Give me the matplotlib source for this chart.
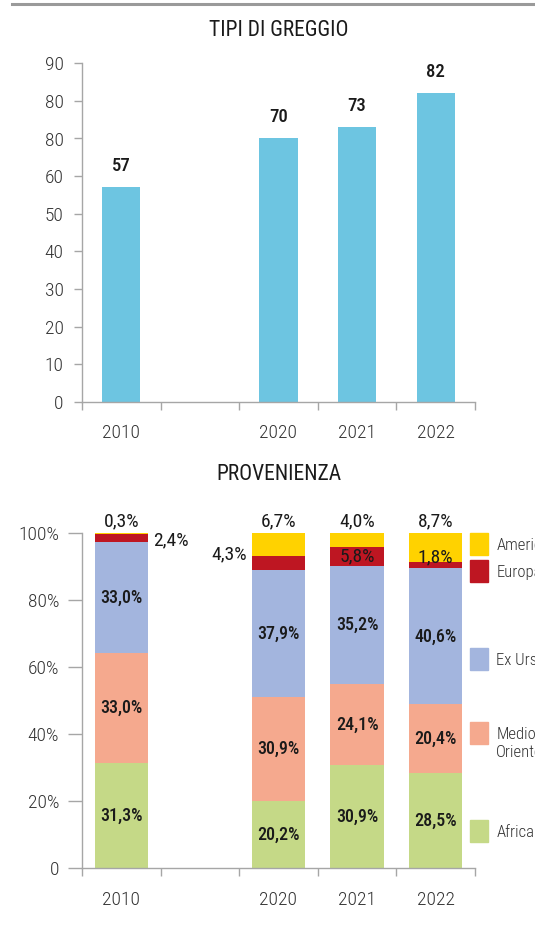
import matplotlib
matplotlib.use('Agg')
import matplotlib.pyplot as plt
from matplotlib import font_manager
from matplotlib.patches import Rectangle
from matplotlib.lines import Line2D

# --- data ---
years = ['2010', '', '2020', '2021', '2022']
greggio = [57, None, 70, 73, 82]
greggio_ticks = [0, 10, 20, 30, 40, 50, 60, 70, 80, 90]
greggio_ticklabels = ['0', '10', '20', '30', '40', '50', '60', '80', '80', '90']  # as printed

regioni = ['Africa', 'Medio\nOriente', 'Ex Urss', 'Europa', 'America']
africa = [31.3, None, 20.2, 30.9, 28.5]
medio_oriente = [33.0, None, 30.9, 24.1, 20.4]
ex_urss = [33.0, None, 37.9, 35.2, 40.6]
europa = [2.4, None, 4.3, 5.8, 1.8]
america = [0.3, None, 6.7, 4.0, 8.7]
pct_ticks = [0, 20, 40, 60, 80, 100]
pct_ticklabels = ['0', '20%', '40%', '60%', '80%', '100%']

colors = ['#c5d987', '#f5a98e', '#a3b5de', '#be1622', '#ffd200']
bar_blue = '#6dc5e1'
axis_gray = '#a6a6a6'
txt = '#1a1a1a'
tick_txt = '#333333'


# pick a narrow font if one is around
def find_font(keys):
    for key in keys:
        for f in font_manager.fontManager.ttflist:
            if key.lower() in f.fname.lower().replace('-', '').replace('_', ''):
                return f.fname
    return None


reg_file = find_font(['RobotoCondensedRegular', 'LiberationSansNarrowRegular',
                      'DejaVuSansCondensed.ttf', 'RobotoCondensed', 'LiberationSansNarrow'])
light_file = find_font(['RobotoCondensedLight.'])
bold_file = find_font(['RobotoCondensedMedium.', 'RobotoCondensedBold.',
                       'LiberationSansNarrowBold.', 'DejaVuSansCondensedBold.'])


def fp(size, style='regular'):
    f = {'bold': bold_file, 'light': light_file}.get(style) or reg_file
    if f:
        return font_manager.FontProperties(fname=f, size=size)
    return font_manager.FontProperties(family='DejaVu Sans', size=size,
                                       weight='bold' if style == 'bold' else 'normal')


def fmt(v):
    return ('%.1f%%' % v).replace('.', ',')


fig = plt.figure(figsize=(5.35, 9.31), dpi=100)

# grey rule at the top
fig.add_artist(Line2D([12 / 535, 1], [1 - 3.5 / 931, 1 - 3.5 / 931], color='#9a9a9a', lw=2.2))


def style_axes(ax, ymax, ylen, ypad):
    for s in ['top', 'right']:
        ax.spines[s].set_visible(False)
    for s in ['left', 'bottom']:
        ax.spines[s].set_color(axis_gray)
        ax.spines[s].set_linewidth(1.0)
    ax.set_xlim(-0.5, 4.5)
    ax.set_ylim(0, ymax)
    ax.set_xticks([i - 0.5 for i in range(6)])
    ax.set_xticklabels([])
    ax.set_xticks(range(5), minor=True)
    ax.set_xticklabels(years, minor=True, color=tick_txt)
    ax.tick_params(axis='x', which='major', length=6, width=1.0, color=axis_gray)
    ax.tick_params(axis='x', which='minor', length=0, pad=16)
    ax.tick_params(axis='y', length=ylen, width=1.0, color=axis_gray,
                   labelcolor=tick_txt, pad=ypad)
    for lab in ax.get_xticklabels(minor=True) + ax.get_yticklabels():
        lab.set_fontproperties(fp(14, 'light'))


# --- top chart: TIPI DI GREGGIO ---
ax1 = fig.add_axes([82 / 535, (931 - 401.7) / 931, 393 / 535, 338.4 / 931])
ax1.set_yticks(greggio_ticks)
ax1.set_yticklabels(greggio_ticklabels)
style_axes(ax1, 90, 5.8, 7.5)
for i, v in enumerate(greggio):
    if v is None:
        continue
    ax1.bar(i, v, width=0.487, color=bar_blue, zorder=2)
    ax1.text(i, v + 5.6, str(v), ha='center', va='center', fontproperties=fp(13.5, 'bold'),
             color=txt, clip_on=False)
fig.text(278.5 / 535, 1 - 30.2 / 931, 'TIPI DI GREGGIO', ha='center', va='center',
         fontproperties=fp(15.5), color=txt)

# --- bottom chart: PROVENIENZA ---
ax2 = fig.add_axes([82 / 535, (931 - 868.3) / 931, 393 / 535, 335 / 931])
ax2.set_yticks(pct_ticks)
ax2.set_yticklabels(pct_ticklabels)
style_axes(ax2, 100, 9.9, 6.5)

series = [africa, medio_oriente, ex_urss, europa, america]

for i in range(5):
    if africa[i] is None:
        continue
    bottom = 0
    for k, s in enumerate(series):
        v = s[i]
        ax2.bar(i, v, bottom=bottom, width=0.68, color=colors[k], zorder=2)
        if k < 3:
            ax2.text(i, bottom + v / 2, fmt(v), ha='center', va='center',
                     fontproperties=fp(13, 'bold'), color=txt)
        bottom += v

    # Europa label
    base = africa[i] + medio_oriente[i] + ex_urss[i]
    if years[i] == '2010':
        ax2.text(i + 0.41, base + 0.7, fmt(europa[i]), ha='left', va='center',
                 fontproperties=fp(14), color=txt, clip_on=False)
    elif years[i] == '2020':
        ax2.text(i - 0.405, base + 4.8, fmt(europa[i]), ha='right', va='center',
                 fontproperties=fp(14), color=txt)
    elif years[i] == '2021':
        ax2.text(i, base + europa[i] / 2, fmt(europa[i]), ha='center', va='center',
                 fontproperties=fp(14), color=txt)
    else:
        ax2.text(i, base + europa[i] + 1.6, fmt(europa[i]), ha='center', va='center',
                 fontproperties=fp(14), color=txt)
    # America label above the bar
    ax2.text(i, 103.6, fmt(america[i]), ha='center', va='center', fontproperties=fp(14),
             color=txt, clip_on=False)

fig.text(278.5 / 535, 1 - 475 / 931, 'PROVENIENZA', ha='center', va='center',
         fontproperties=fp(15.5), color=txt)

# legend drawn beside the bars
legend_y = [11.2, 40.5, 62.5, 88.8, 96.9]
for k, name in enumerate(regioni):
    yc = legend_y[k]
    ax2.add_patch(Rectangle((4.44, yc - 3.25), 0.225, 6.5, color=colors[k],
                            clip_on=False, zorder=3))
    ax2.text(4.77, yc + 1.7, name, ha='left', va='top', fontproperties=fp(12, 'light'),
             color=tick_txt, clip_on=False, linespacing=1.25)

fig.savefig('out.png', dpi=100)
